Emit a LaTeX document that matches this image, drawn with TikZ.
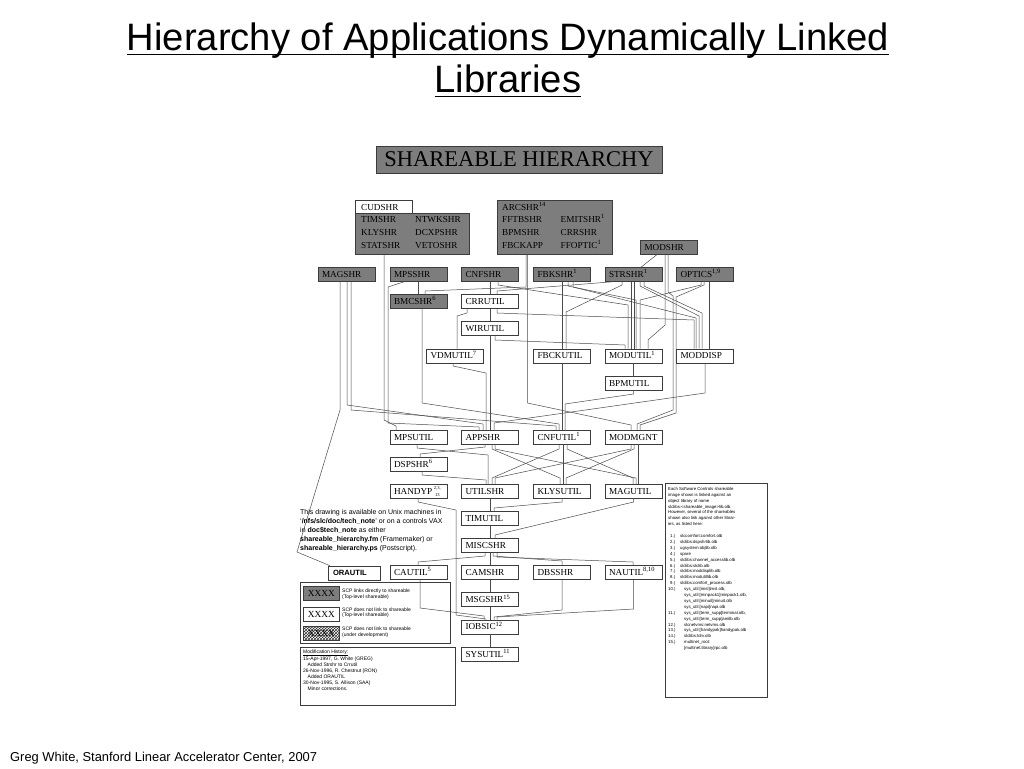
\documentclass[tikz,border=0pt]{standalone}
\usepackage{fontspec}
\setmainfont{Liberation Serif}
\newfontfamily\arial{Liberation Sans}
\usetikzlibrary{patterns}
\definecolor{boxgray}{RGB}{125,125,125}
\definecolor{edgec}{RGB}{60,60,60}
\definecolor{wirec}{RGB}{75,75,75}
\begin{document}
\begin{tikzpicture}[x=1pt,y=-1pt,
 bx/.style={draw=edgec, line width=0.6pt, fill=white, minimum height=14pt, text width=49pt, inner xsep=4pt, inner ysep=0pt, align=left, text height=6.3pt, text depth=0pt, font=\fontsize{9.2}{10}\selectfont},
 gbx/.style={bx, fill=boxgray},
 grp/.style={draw=edgec, line width=0.6pt, inner sep=0pt},
 lbl/.style={inner sep=0pt, anchor=base west, font=\fontsize{9.2}{10}\selectfont},
 smalltxt/.style={inner sep=0pt, anchor=north west, align=left},
 wln/.style={draw=wirec, line width=0.5pt},
 frame/.style={draw=edgec, line width=0.6pt, inner sep=0pt, anchor=north west},
]
\fill[white] (0,0) rectangle (1024,768);
\useasboundingbox (0,0) rectangle (1024,768);

% ---- title and footer
\node[inner sep=0pt, anchor=base, font=\arial\fontsize{38.2}{43}\selectfont] (t1) at (508,50) {Hierarchy of Applications Dynamically Linked};
\node[inner sep=0pt, anchor=base, font=\arial\fontsize{38.2}{43}\selectfont] (t2) at (508,92) {Libraries};
\draw[line width=1.8pt] ([yshift=-4.5pt]t1.base west) -- ([yshift=-4.5pt]t1.base east);
\draw[line width=1.8pt] ([yshift=-4.5pt]t2.base west) -- ([yshift=-4.5pt]t2.base east);
\node[inner sep=0pt, anchor=base west, font=\arial\fontsize{12.9}{14}\selectfont] (foot) at (10,761) {Greg White, Stanford Linear Accelerator Center, 2007};

% ---- heading box
\node[grp, fill=boxgray, minimum width=286pt, minimum height=27pt, font=\fontsize{22.5}{24}\selectfont] (sh) at (519,159.5) {SHAREABLE HIERARCHY};

% ---- top groups
\node[grp, fill=boxgray, minimum width=114pt, minimum height=41.5pt] (cudg) at (412,233.75) {};
\node[grp, fill=white, minimum width=57pt, minimum height=13pt] (cud) at (383.5,206.5) {};
\node[lbl] (cudt) at (361,210.4) {CUDSHR};
\node[lbl] (g1a) at (361,222.4) {TIMSHR};
\node[lbl] (g1b) at (415,222.4) {NTWKSHR};
\node[lbl] (g2a) at (361,235.6) {KLYSHR};
\node[lbl] (g2b) at (415,235.6) {DCXPSHR};
\node[lbl] (g3a) at (361,248.6) {STATSHR};
\node[lbl] (g3b) at (415,248.6) {VETOSHR};

\node[grp, fill=boxgray, minimum width=114.5pt, minimum height=54.5pt] (arc) at (554.75,227.25) {};
\node[lbl] (a0) at (502,210) {ARCSHR\textsuperscript{14}};
\node[lbl] (a1a) at (502,222.4) {FFTBSHR};
\node[lbl] (a1b) at (560.5,222.4) {EMITSHR\textsuperscript{1}};
\node[lbl] (a2a) at (502,235.6) {BPMSHR};
\node[lbl] (a2b) at (560.5,235.6) {CRRSHR};
\node[lbl] (a3a) at (502,248.6) {FBCKAPP};
\node[lbl] (a3b) at (560.5,248.6) {FFOPTIC\textsuperscript{1}};

\node[gbx, minimum height=13.5pt] (mod) at (669,247.5) {MODSHR};

% ---- row of shareables
\node[gbx] (mag) at (346.5,274.5) {MAGSHR};
\node[gbx] (mps) at (418.5,274.5) {MPSSHR};
\node[gbx] (cnf) at (490,274.5) {CNFSHR};
\node[gbx] (fbk) at (562,274.5) {FBKSHR\textsuperscript{1}};
\node[gbx] (str) at (633.5,274.5) {STRSHR\textsuperscript{1}};
\node[gbx] (opt) at (705,274.5) {OPTICS\textsuperscript{1,9}};

\node[gbx] (bmc) at (418.5,301.6) {BMCSHR\textsuperscript{6}};
\node[bx] (crr) at (490,301.6) {CRRUTIL};
\node[bx] (wir) at (490,328.7) {WIRUTIL};
\node[bx] (vdm) at (455,355.8) {VDMUTIL\textsuperscript{7}};
\node[bx] (fbu) at (562,355.8) {FBCKUTIL};
\node[bx] (mdu) at (633.5,355.8) {MODUTIL\textsuperscript{1}};
\node[bx] (mdd) at (705,355.8) {MODDISP};
\node[bx] (bpm) at (633.5,382.9) {BPMUTIL};

\node[bx] (mpu) at (418.5,437.1) {MPSUTIL};
\node[bx] (app) at (490,437.1) {APPSHR};
\node[bx] (cfu) at (562,437.1) {CNFUTIL\textsuperscript{1}};
\node[bx] (mmg) at (633.5,437.1) {MODMGNT};
\node[bx] (dsp) at (418.5,464.2) {DSPSHR\textsuperscript{6}};
\node[bx] (hdy) at (418.5,491.3) {HANDYP\,\raisebox{-2.2pt}{\fontsize{4.6}{4.6}\selectfont\shortstack{2,3,\\[0.8pt]13}}};
\node[bx] (uts) at (490,491.3) {UTILSHR};
\node[bx] (kly) at (562,491.3) {KLYSUTIL};
\node[bx] (mgu) at (633.5,491.3) {MAGUTIL};
\node[bx] (tmu) at (490,518.4) {TIMUTIL};
\node[bx] (msc) at (490,545.5) {MISCSHR};
\node[draw=edgec, line width=0.6pt, fill=white, minimum height=14pt, text width=42pt, inner xsep=5pt, inner ysep=0pt, align=left, font=\arial\bfseries\fontsize{7.6}{8}\selectfont] (ora) at (354,573) {ORAUTIL};
\node[bx] (cau) at (418.5,572.6) {CAUTIL\textsuperscript{5}};
\node[bx] (cam) at (490,572.6) {CAMSHR};
\node[bx] (dbs) at (562,572.6) {DBSSHR};
\node[bx] (nau) at (633.5,572.6) {NAUTIL\textsuperscript{8,10}};
\node[bx] (msg) at (490,599.7) {MSGSHR\textsuperscript{15}};
\node[bx] (iob) at (490,626.8) {IOBSIC\textsuperscript{12}};
\node[bx] (sys) at (490,653.9) {SYSUTIL\textsuperscript{11}};

% ---- connectors, upper part
\draw[wln] (384,0 |- cudg.south) -- (384,420) -- (396,426) -- (396,0 |- mpu.north);
\draw[wln] (404,0 |- mps.south) -- (388,287) -- (388,423) -- (479,427) -- (479,0 |- app.north);
\draw[wln] (418.5,0 |- mps.south) -- (418.5,0 |- bmc.north);
\draw[wln] (526,0 |- arc.south) -- (526,287) -- (425,291) -- (425,0 |- bmc.north);
\draw[wln] (527.5,0 |- arc.south) -- (527.5,403) -- (631,425) -- (631,0 |- mmg.north);
\draw[wln] (340,0 |- mag.south) -- (340,410) -- (297,552) -- (330,0 |- ora.north);
\draw[wln] (347,0 |- mag.south) -- (347,405) -- (483,424) -- (483,0 |- app.north);
\draw[wln] (351,0 |- mag.south) -- (351,410) -- (556,426) -- (556,0 |- cfu.north);
\draw[wln] (422,0 |- bmc.south) -- (422,403) -- (559,424) -- (559,0 |- cfu.north);
\draw[wln] (490,0 |- cnf.south) -- (490,0 |- crr.north);
\draw[wln] (498,0 |- cnf.south) -- (498,285) -- (628,305) -- (628,0 |- mdu.north);
\draw[wln] (612,0 |- str.south) -- (497,291) -- (497,0 |- crr.north);
\draw[wln] (490,0 |- crr.south) -- (490,0 |- wir.north);
\draw[wln] (467,0 |- crr.south) -- (467,313) -- (457,316) -- (457,0 |- vdm.north);
\draw[wln] (497,0 |- crr.south) -- (497,313) -- (694,320) -- (694,0 |- mdd.north);
\draw[wln] (490,0 |- wir.south) -- (490,0 |- app.north);
\draw[wln] (495,0 |- wir.south) -- (495,340) -- (625,345) -- (625,0 |- mdu.north);
\draw[wln] (453,0 |- vdm.south) -- (453,366) -- (486,373) -- (486,0 |- app.north);
\draw[wln] (562,0 |- fbk.south) -- (562,0 |- fbu.north);
\draw[wln] (568,0 |- fbk.south) -- (568,286) -- (636,300) -- (636,0 |- mdu.north);
\draw[wln] (573,0 |- fbk.south) -- (573,287) -- (696,318) -- (696,0 |- mdd.north);
\draw[wln] (622,0 |- str.south) -- (622,285) -- (566,312) -- (566,0 |- fbu.north);
\draw[wln] (631,0 |- str.south) -- (631,0 |- mdu.north);
\draw[wln] (634,0 |- str.south) -- (634,0 |- mdu.north);
\draw[wln] (640,0 |- str.south) -- (640,286) -- (699,316) -- (699,0 |- mdd.north);
\draw[wln] (644,0 |- str.south) -- (644,286) -- (702,313) -- (702,0 |- mdd.north);
\draw[wln] (709,0 |- opt.south) -- (709,0 |- mdd.north);
\draw[wln] (701,0 |- opt.south) -- (701,285) -- (640,300) -- (640,0 |- mdu.north);
\draw[wln] (704,0 |- opt.south) -- (704,285) -- (676,297) -- (676,413) -- (640,425) -- (640,0 |- mmg.north);
\draw[wln] (657,0 |- mod.south) -- (641,0 |- str.north);
\draw[wln] (665,0 |- mod.south) -- (665,325) -- (648,340) -- (648,0 |- mdu.north);
\draw[wln] (668,0 |- mod.south) -- (668,292) -- (673,296) -- (673,410) -- (637,424) -- (637,0 |- mmg.north);
\draw[wln] (633.5,0 |- mdu.south) -- (633.5,0 |- bpm.north);
\draw[wln] (633.5,0 |- bpm.south) -- (633.5,394) -- (565,404) -- (565,0 |- cfu.north);
\draw[wln] (562,0 |- fbu.south) -- (562,0 |- cfu.north);
\draw[wln] (705,0 |- mdd.south) -- (705,393) -- (494,423) -- (494,0 |- app.north);

% ---- connectors, lower part
\draw[wln] (417,0 |- mpu.south) -- (417,448) -- (488,455) -- (488,0 |- uts.north);
\draw[wln] (485,0 |- app.south) -- (485,447) -- (420,454) -- (420,0 |- dsp.north);
\draw[wln] (422,0 |- dsp.south) -- (422,475) -- (486,480) -- (486,0 |- uts.north);
\draw[wln] (492,0 |- app.south) -- (492,449) -- (560,478) -- (560,0 |- kly.north);
\draw[wln] (495,0 |- app.south) -- (495,449) -- (636,478) -- (636,0 |- mgu.north);
\draw[wln] (559,0 |- cfu.south) -- (559,449) -- (492,478) -- (492,0 |- uts.north);
\draw[wln] (563,0 |- cfu.south) -- (563,0 |- kly.north);
\draw[wln] (567,0 |- cfu.south) -- (567,449) -- (633,478) -- (633,0 |- mgu.north);
\draw[wln] (631,0 |- mmg.south) -- (631,449) -- (495,478) -- (495,0 |- uts.north);
\draw[wln] (634,0 |- mmg.south) -- (634,449) -- (566,478) -- (566,0 |- kly.north);
\draw[wln] (638,0 |- mmg.south) -- (638,0 |- mgu.north);
\draw[wln] (490,0 |- uts.south) -- (490,0 |- tmu.north);
\draw[wln] (562,0 |- kly.south) -- (562,502) -- (494,508) -- (494,0 |- tmu.north);
\draw[wln] (633.5,0 |- mgu.south) -- (633.5,502) -- (495,535) -- (495,0 |- msc.north);
\draw[wln] (490,0 |- tmu.south) -- (490,0 |- msc.north);
\draw[wln] (418,0 |- hdy.south) -- (418,502) -- (456,510) -- (456,615) -- (486,619) -- (486,0 |- iob.north);
\draw[wln] (485,0 |- msc.south) -- (485,556) -- (418,562) -- (418,0 |- cau.north);
\draw[wln] (490,0 |- msc.south) -- (490,0 |- cam.north);
\draw[wln] (493,0 |- msc.south) -- (493,556) -- (562,561) -- (562,0 |- dbs.north);
\draw[wln] (497,0 |- msc.south) -- (497,557) -- (633,562) -- (633,0 |- nau.north);
\draw[wln] (490,0 |- cam.south) -- (490,0 |- msg.north);
\draw[wln] (490,0 |- msg.south) -- (490,0 |- iob.north);
\draw[wln] (420,0 |- cau.south) -- (420,608) -- (484,616) -- (484,0 |- iob.north);
\draw[wln] (562,0 |- dbs.south) -- (562,610) -- (494,617) -- (494,0 |- iob.north);
\draw[wln] (633.5,0 |- nau.south) -- (633.5,609) -- (497,617) -- (497,0 |- iob.north);
\draw[wln] (490,0 |- iob.south) -- (490,0 |- sys.north);

% ---- left note
\node[smalltxt, font=\arial\fontsize{7}{9}\selectfont] (note) at (300,509.2) {This drawing is available on Unix machines in\\
‘\textbf{/nfs/slc/doc/tech\_note}’ or on a controls VAX\\
in \textbf{doc\$tech\_note} as either\\
\textbf{shareable\_hierarchy.fm} (Framemaker) or\\
\textbf{shareable\_hierarchy.ps} (Postscript).};

% ---- legend
\node[frame, minimum width=150pt, minimum height=61pt] (leg) at (300,582) {};
\node[grp, fill=boxgray, minimum width=36.7pt, minimum height=14pt, font=\fontsize{9.3}{10}\selectfont] (lg1) at (321.4,593.7) {XXXX};
\node[grp, fill=white, minimum width=36.7pt, minimum height=14pt, font=\fontsize{9.3}{10}\selectfont] (lg2) at (321.4,614) {XXXX};
\node[grp, pattern=crosshatch, pattern color=black!80, minimum width=36.7pt, minimum height=14pt, font=\fontsize{9.3}{10}\selectfont] (lg3) at (321.4,633.7) {XXXX};
\node[smalltxt, font=\arial\fontsize{5}{5.5}\selectfont] (lg1t) at (342,588.7) {SCP links directly to shareable\\(Top-level shareable)};
\node[smalltxt, font=\arial\fontsize{5}{5.5}\selectfont] (lg2t) at (342,607.6) {SCP does not link to shareable\\(Top-level shareable)};
\node[smalltxt, font=\arial\fontsize{5}{5.5}\selectfont] (lg3t) at (342,627) {SCP does not link to shareable\\(under development)};

% ---- modification history
\node[frame, minimum width=155pt, minimum height=58pt] (mh) at (300,647) {};
\node[smalltxt, font=\arial\fontsize{5}{5.9}\selectfont] (mht) at (303,649.4) {\underline{Modification History:}\\
15-Apr-1997, G. White (GREG)\\
\hspace*{4.5pt}Added Strshr to Crrutil\\
26-Nov-1996, R. Chestnut (RON)\\
\hspace*{4.5pt}Added ORAUTIL\\
30-Nov-1995, S. Allison (SAA)\\
\hspace*{4.5pt}Minor corrections.};

% ---- library notes
\node[frame, minimum width=102pt, minimum height=214pt] (nb) at (665,483) {};
\node[smalltxt, font=\arial\fontsize{4.3}{5.9}\selectfont] (nbt) at (668,487) {Each Software Controls shareable\\
image shown is linked against an\\
object library of name\\
slclibs:<shareable\_image>lib.olb.\\
However, several of the shareables\\
shown also link against other librar-\\
ies, as listed here:\\
\mbox{}\\
\hspace*{2pt}\makebox[10pt][l]{1.)}slccomfort:comfort.olb\\
\hspace*{2pt}\makebox[10pt][l]{2.)}slclibs:dspshrlib.olb\\
\hspace*{2pt}\makebox[10pt][l]{3.)}ugsystem:objlib.olb\\
\hspace*{2pt}\makebox[10pt][l]{4.)}spare\\
\hspace*{2pt}\makebox[10pt][l]{5.)}slclibs:channel\_accesslib.olb\\
\hspace*{2pt}\makebox[10pt][l]{6.)}slclibs:slclib.olb\\
\hspace*{2pt}\makebox[10pt][l]{7.)}slclibs:moddisplib.olb\\
\hspace*{2pt}\makebox[10pt][l]{8.)}slclibs:modutillib.olb\\
\hspace*{2pt}\makebox[10pt][l]{9.)}slclibs:comfort\_process.olb\\
\makebox[16pt][l]{10.)}sys\_util:[imsl]imsl.olb,\\
\hspace*{16pt}sys\_util:[minpack1]minpack1.olb,\\
\hspace*{16pt}sys\_util:[minuit]minuit.olb\\
\hspace*{16pt}sys\_util:[napi]napi.olb\\
\makebox[16pt][l]{11.)}sys\_util:[term\_supp]terminal.olb,\\
\hspace*{16pt}sys\_util:[term\_supp]amilb.olb\\
\makebox[16pt][l]{12.)}slcnetvms:netvms.olb\\
\makebox[16pt][l]{13.)}sys\_util:[handypak]handypak.olb\\
\makebox[16pt][l]{14.)}slclibs:tdrv.olb\\
\makebox[16pt][l]{15.)}multinet\_root:\\
\hspace*{16pt}[multinet.library]rpc.olb};
\end{tikzpicture}
\end{document}
